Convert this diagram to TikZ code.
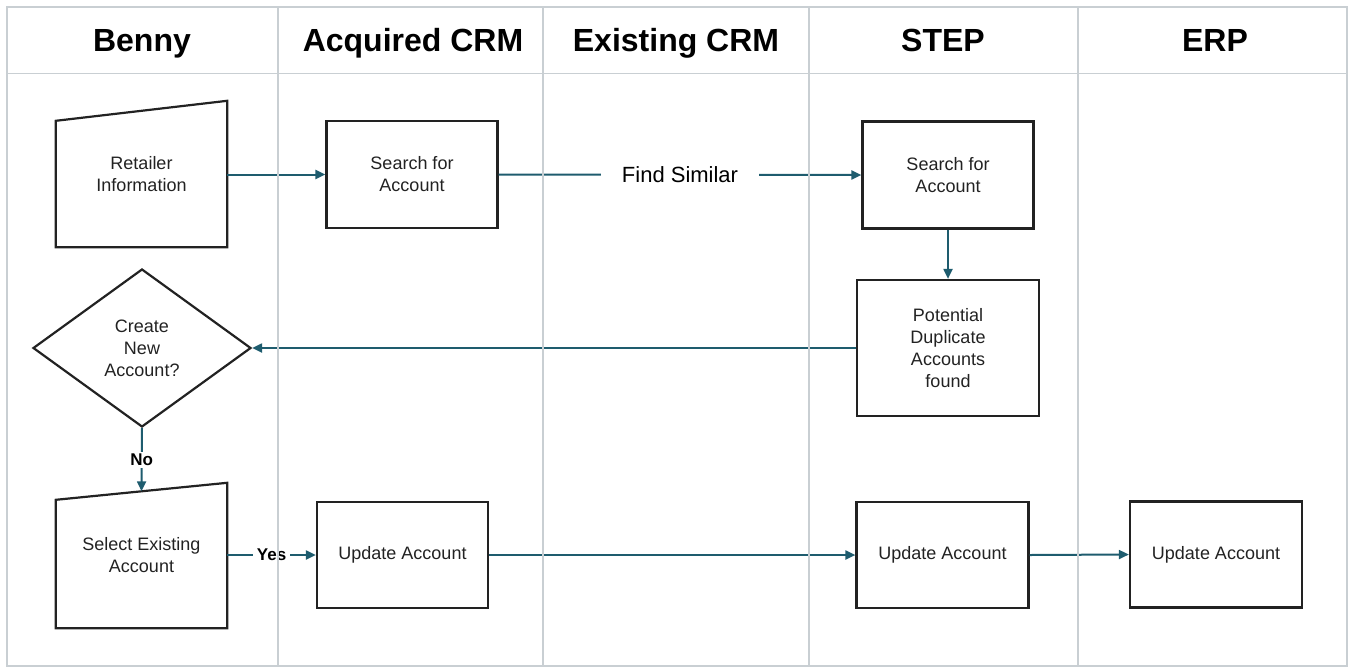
\documentclass[tikz,border=0pt]{standalone}
\usepackage{fontspec}
\setmainfont{Liberation Sans}
\usetikzlibrary{arrows.meta,shapes.geometric,calc}
\definecolor{gridc}{HTML}{C9CFD3}
\definecolor{flow}{HTML}{1E5C6E}
\definecolor{ink}{HTML}{222222}
\tikzset{
  box/.style={draw=ink,line width=2.2pt,inner sep=0pt,align=center,text=ink,
    font=\fontsize{18}{22}\selectfont},
  mbox/.style={draw=none,inner sep=0pt,align=center,text=ink,
    font=\fontsize{18}{22}\selectfont},
  hdr/.style={font=\fontsize{32}{36}\selectfont\bfseries,text=black,anchor=base},
  flowline/.style={draw=flow,line width=2pt,-{Triangle[length=10pt,width=9pt]}},
  lbl/.style={fill=white,text=black,font=\fontsize{17}{20}\selectfont\bfseries,inner xsep=4pt,inner ysep=2pt},
  gridline/.style={draw=gridc,line width=1.8pt},
}
\begin{document}
\begin{tikzpicture}[x=1pt,y=-1pt]
\useasboundingbox (0,0) rectangle (1348,667);
% headers
\node[hdr] (h1) at (142,51) {Benny};
\node[hdr] (h2) at (413,51) {Acquired CRM};
\node[hdr] (h3) at (676,51) {Existing CRM};
\node[hdr] (h4) at (943,51) {STEP};
\node[hdr] (h5) at (1215,51) {ERP};
% Retailer information (manual input)
\node[mbox,minimum width=171pt,minimum height=146pt] (ri) at (141.5,174) {Retailer\\Information};
\draw[ink,line width=2.2pt,line join=miter] ($(ri.north west)+(0,20)$) -- (ri.north east) -- (ri.south east) -- (ri.south west) -- cycle;
% search for account (Acquired)
\node[box,minimum width=171pt,minimum height=107pt] (sa) at (412,174.5) {Search for\\Account};
% search for account (STEP)
\node[box,minimum width=171pt,minimum height=107pt] (ss) at (948,175) {Search for\\Account};
% potential duplicate
\node[box,minimum width=182pt,minimum height=136pt] (pd) at (948,348) {Potential\\Duplicate\\Accounts\\found};
% diamond
\node[diamond,draw=ink,line width=2.2pt,minimum width=218pt,minimum height=158pt,inner sep=0pt,align=center,text=ink,
  font=\fontsize{18}{22}\selectfont] (cn) at (142,348) {Create\\New\\Account?};
% select existing account (manual input)
\node[mbox,minimum width=171pt,minimum height=145pt] (se) at (141.5,555.5) {Select Existing\\Account};
\draw[ink,line width=2.2pt,line join=miter] ($(se.north west)+(0,17)$) -- (se.north east) -- (se.south east) -- (se.south west) -- cycle;
\coordinate (setop) at ($($(se.north west)+(0,17)$)!0.5!(se.north east)$);
% update boxes
\node[box,minimum width=171pt,minimum height=106pt] (ua) at (402.5,555) {Update Account};
\node[box,minimum width=172pt,minimum height=106pt] (us) at (942.5,555) {Update Account};
\node[box,minimum width=172pt,minimum height=106pt] (ue) at (1216,554.5) {Update Account};
% connectors
\draw[flowline] (ri.east |- sa.west) -- (sa.west);
\draw[flowline] (sa.east) -- node[fill=white,text=black,font=\fontsize{22}{26}\selectfont,inner xsep=21pt,inner ysep=4pt] (fs) {Find Similar} (ss.west);
\draw[flowline] (ss.south) -- (pd.north);
\draw[flowline] (pd.west) -- (cn.east);
\draw[flowline] (cn.south) -- node[lbl,inner xsep=2pt] (no) {No} (setop);
\draw[flowline] (se.east |- ua.west) -- node[lbl,pos=0.5] (yes) {Yes} (ua.west);
\draw[flowline] (ua.east) -- (us.west);
\draw[flowline] (us.east) -- (ue.west);
% swimlane grid
\draw[gridline] (7,7) rectangle (1347,666);
\draw[gridline] (7,73.5) -- (1347,73.5);
\foreach \xx in {278,543,809,1078} \draw[gridline] (\xx,7) -- (\xx,666);
\end{tikzpicture}
\end{document}
